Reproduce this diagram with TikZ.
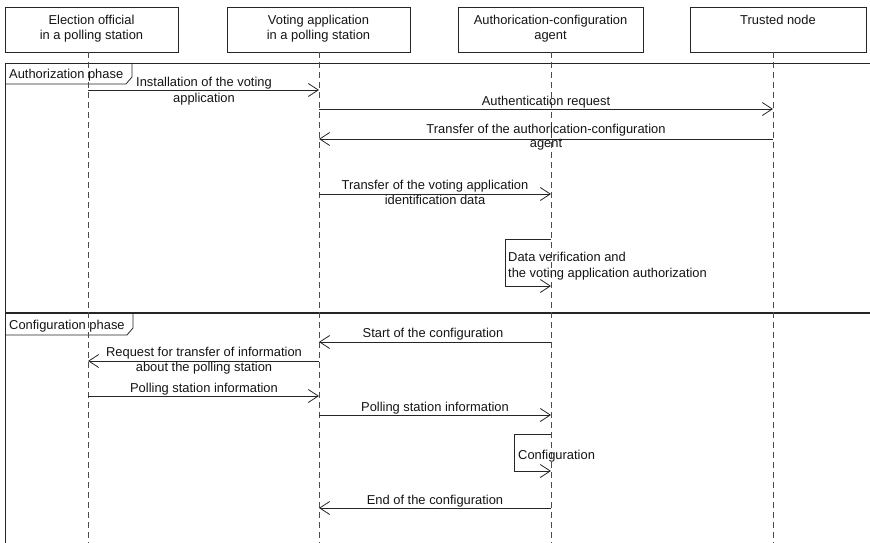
\documentclass[tikz,border=0pt]{standalone}
\usepackage{fontspec}
\setmainfont{Liberation Sans}
\usetikzlibrary{arrows.meta}
\newcommand{\lowdepth}{\rule[-5pt]{0pt}{0pt}}
\begin{document}
\begin{tikzpicture}[x=1pt,y=-1pt,
  every node/.style={font=\fontsize{12.9}{15}\selectfont, text=black!92, inner sep=0pt},
  actor/.style={draw=black!85, line width=0.8pt, align=center, minimum height=45pt},
  life/.style={draw=black!70, line width=0.8pt, dash pattern=on 6pt off 4pt},
  msg/.style={draw=black!85, line width=0.8pt, -{Straight Barb[length=10pt,width=13pt]}},
  lbl/.style={anchor=base},
  frame/.style={draw=black!85, line width=0.8pt},
]
\useasboundingbox (0,0) rectangle (870,543);

% participants
\node[actor, minimum width=173pt] (eo) at (91.5,29.5) {Election official\\in a polling station\lowdepth};
\node[actor, minimum width=183pt] (va) at (318.5,29.5) {Voting application\\in a polling station\lowdepth};
\node[actor, minimum width=185pt] (ag) at (550.5,29.5) {Authorication-configuration\\agent\lowdepth};
\node[actor, minimum width=176pt] (tn) at (778,29.5) {Trusted node\\\phantom{g}\lowdepth};

% lifelines
\coordinate (L1) at (88,52);  \coordinate (L1e) at (88,543);
\coordinate (L2) at (319,52); \coordinate (L2e) at (319,543);
\coordinate (L3) at (551,52); \coordinate (L3e) at (551,543);
\coordinate (L4) at (773,52); \coordinate (L4e) at (773,543);

% combined fragments
\draw[frame] (870,63) -- (5,63) -- (5,543);
\draw[frame] (5,84) -- (126,84) -- (132,77) -- (132,63);
\node[anchor=base west] (fa) at (9,78) {Authorization phase};
\draw[frame, line width=1.7pt] (5,313) -- (870,313);
\draw[frame] (5,335) -- (127,335) -- (133,328) -- (133,313);
\node[anchor=base west] (fc) at (9,329) {Configuration phase};

\foreach \a/\b in {L1/L1e,L2/L2e,L3/L3e,L4/L4e} \draw[life] (\a) -- (\b);

% authorization messages
\draw[msg] (L1 |- 0,90) -- (L2 |- 0,90);
\node[lbl] (m1a) at (204,86) {Installation of the voting};
\node[lbl] (m1b) at (204,102) {application};

\draw[msg] (L2 |- 0,109) -- (L4 |- 0,109);
\node[lbl] (m2) at (546,105) {Authentication request};

\draw[msg] (L4 |- 0,139) -- (L2 |- 0,139);
\node[lbl] (m3a) at (546,133.5) {Transfer of the authorication-configuration};
\node[lbl] (m3b) at (546,147.5) {agent};

\draw[msg] (L2 |- 0,194) -- (L3 |- 0,194);
\node[lbl] (m4a) at (435,189.5) {Transfer of the voting application};
\node[lbl] (m4b) at (435,204.5) {identification data};

\draw[msg] (L3 |- 0,239) -| (505,286) -- (L3 |- 0,286);
\node[anchor=base west] (m5a) at (508,261) {Data verification and};
\node[anchor=base west] (m5b) at (508,277) {the voting application authorization};

% configuration messages
\draw[msg] (L3 |- 0,342) -- (L2 |- 0,342);
\node[lbl] (m6) at (433,337.5) {Start of the configuration};

\draw[msg] (L2 |- 0,361) -- (L1 |- 0,361);
\node[lbl] (m7a) at (204,356.5) {Request for transfer of information};
\node[lbl] (m7b) at (204,371.5) {about the polling station};

\draw[msg] (L1 |- 0,396) -- (L2 |- 0,396);
\node[lbl] (m8) at (204,392.5) {Polling station information};

\draw[msg] (L2 |- 0,415) -- (L3 |- 0,415);
\node[lbl] (m9) at (435,411.5) {Polling station information};

\draw[msg] (L3 |- 0,434) -| (514,471) -- (L3 |- 0,471);
\node[anchor=base west] (m10) at (518,459) {Configuration};

\draw[msg] (L3 |- 0,508) -- (L2 |- 0,508);
\node[lbl] (m11) at (435,504.5) {End of the configuration};
\end{tikzpicture}
\end{document}
